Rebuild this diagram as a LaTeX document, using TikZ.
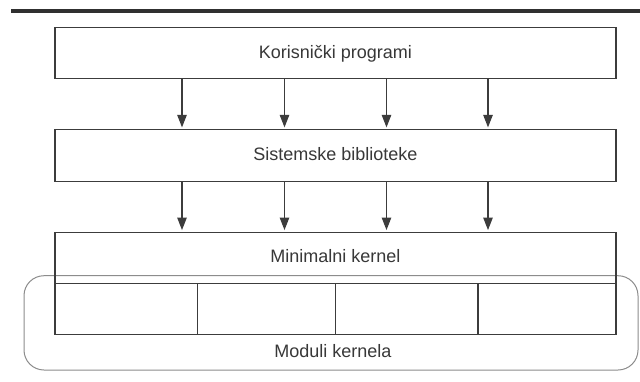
\documentclass[tikz,border=0pt]{standalone}
\usepackage{fontspec}
\setmainfont{Liberation Sans}
\usetikzlibrary{arrows.meta}
\definecolor{linecol}{HTML}{3C3C3C}
\definecolor{textcol}{HTML}{383838}
\definecolor{framecol}{HTML}{8C8C8C}
\definecolor{barcol}{HTML}{303030}
\tikzset{
  layerbox/.style={draw=linecol, line width=1.1pt, rectangle, inner sep=0pt, outer sep=0pt,
    minimum width=561pt, text=textcol, font=\fontsize{18}{21}\selectfont,
    text height=14pt, text depth=3.7pt},
  modbox/.style={draw=linecol, line width=1.1pt, rectangle, inner sep=0pt, outer sep=0pt,
    minimum height=51pt},
  lbl/.style={text=textcol, font=\fontsize{18}{21}\selectfont, inner sep=0pt,
    text height=14pt, text depth=3.7pt},
  arr/.style={draw=linecol, line width=1.1pt, -{Triangle[length=12.5pt,width=9.5pt]}},
  frame/.style={draw=framecol, line width=1pt, rounded corners=20pt, rectangle,
    inner sep=0pt, outer sep=0pt, minimum width=614pt, minimum height=94.3pt}
}
\begin{document}
\begin{tikzpicture}[x=1pt,y=-1pt]
\useasboundingbox (0,0) rectangle (640,381);
\fill[white] (0,0) rectangle (640,381);
% top bar
\coordinate (barL) at (11,10.8);
\coordinate (barR) at (640,10.8);
\draw[barcol, line width=3.7pt] (barL) -- (barR);
% frame for modules
\node[frame] (modframe) at (331,322.85) {};
\node[lbl] (modlbl) at (333,352) {Moduli kernela};
% layers
\node[layerbox, minimum height=51.4pt] (b1) at (335.5,53) {Korisnički programi};
\node[layerbox, minimum height=51.7pt] (b2) at (335.5,155.2) {Sistemske biblioteke};
\node[layerbox, minimum height=51.3pt] (b3) at (335.5,257.7) {};
\node[lbl] (b3lbl) at (335.5,257.7) {Minimalni kernel};
% modules
\node[modbox, minimum width=142.3pt] (m1) at (126.15,308.8) {};
\node[modbox, minimum width=138.4pt] (m2) at (266.5,308.8) {};
\node[modbox, minimum width=142.3pt] (m3) at (406.85,308.8) {};
\node[modbox, minimum width=138pt] (m4) at (547,308.8) {};
% arrow columns
\coordinate (c1) at (182,0);
\coordinate (c2) at (284.5,0);
\coordinate (c3) at (386.5,0);
\coordinate (c4) at (488,0);
\foreach \c in {c1,c2,c3,c4}{
  \draw[arr] (b1.south -| \c) -- ([yshift=2pt]b2.north -| \c);
  \draw[arr] (b2.south -| \c) -- ([yshift=2pt]b3.north -| \c);
}
\end{tikzpicture}
\end{document}
